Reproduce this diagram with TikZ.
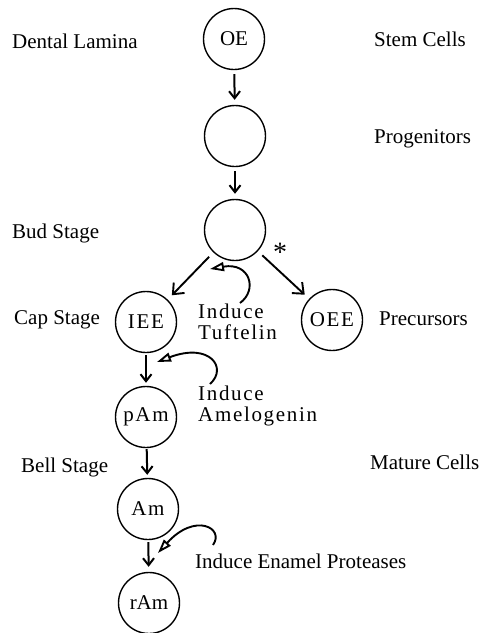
\documentclass[tikz,border=0pt]{standalone}
\usepackage{fontspec}
\setmainfont{Liberation Serif}
\newfontfamily\spacedfont[LetterSpace=8]{Liberation Serif}
\usetikzlibrary{arrows.meta}

\begin{document}
\fontsize{21}{21}\selectfont
\begin{tikzpicture}[x=1pt,y=-1pt,
    cell/.style={draw,circle,line width=1.4pt,minimum size=61pt,inner sep=0pt},
    lbl/.style={anchor=west,inner sep=0pt},
    stepdown/.style={line width=2pt,-{Straight Barb[length=7pt,width=11pt]}},
    split/.style={line width=1.9pt,-{Straight Barb[length=9pt,width=15pt]}},
    induce/.style={line width=1.9pt,-{Triangle[open,length=14pt,width=9pt]}}]
    \useasboundingbox (0,0) rectangle (481,633);

    % cells
    \node[cell] (oe) at (234,39) {OE};
    \node[cell] (prog) at (235,136) {};
    \node[cell] (bud) at (235,230) {};
    \node[cell] (iee) at (146,322) {\spacedfont IEE};
    \node[cell] (oee) at (332,320) {\spacedfont OEE};
    \node[cell] (pam) at (146,417) {\spacedfont pAm};
    \node[cell] (am) at (148,509) {\spacedfont Am};
    \node[cell] (ram) at (149,603) {rAm};
    \node[font=\fontsize{28}{28}\selectfont] (star) at (280,252) {*};

    % stages and cell types
    \node[lbl] (lamina) at (12,41) {Dental Lamina};
    \node[lbl] (budst) at (12,233) {Bud Stage};
    \node[lbl] (capst) at (14,320) {Cap Stage};
    \node[lbl] (bellst) at (21,467) {Bell Stage};
    \node[lbl] (stem) at (374,39) {Stem Cells};
    \node[lbl] (progen) at (374,139) {Progenitors};
    \node[lbl] (precur) at (379,319) {Precursors};
    \node[lbl] (mature) at (370,462) {Mature Cells};

    % inducers
    \node[lbl,align=left,font=\spacedfont] (tuft) at (198,322) {Induce\\Tuftelin};
    \node[lbl,align=left,font=\spacedfont] (amel) at (198,406) {Induce\\Amelogenin};
    \node[lbl] (prot) at (195,561) {Induce Enamel Proteases};

    \draw[stepdown,shorten <=4pt,shorten >=5pt] (oe) -- (prog);
    \draw[stepdown,shorten <=4pt,shorten >=5pt] (prog) -- (bud);
    \draw[split,shorten <=6pt,shorten >=6pt] (bud) -- (iee);
    \draw[split,shorten <=6pt,shorten >=6pt] (bud) -- (oee);
    \draw[stepdown,shorten <=2pt,shorten >=3pt] (iee) -- (pam);
    \draw[stepdown,shorten <=1pt,shorten >=3pt] (pam) -- (am);
    \draw[stepdown,shorten <=2pt,shorten >=5pt] (am) -- (ram);

    \coordinate (tuftfrom) at (240,303);
    \coordinate (tufttip) at (210,269);
    \coordinate (amelfrom) at (210,384);
    \coordinate (ameltip) at (157,362);
    \coordinate (protfrom) at (213,545);
    \coordinate (prottip) at (158,553);
    \draw[induce] (tuftfrom) .. controls (258,290) and (250,262) .. (tufttip);
    \draw[induce] (amelfrom) .. controls (228,368) and (210,342) .. (ameltip);
    \draw[induce] (protfrom) .. controls (225,528) and (195,512) .. (prottip);
\end{tikzpicture}
\end{document}
